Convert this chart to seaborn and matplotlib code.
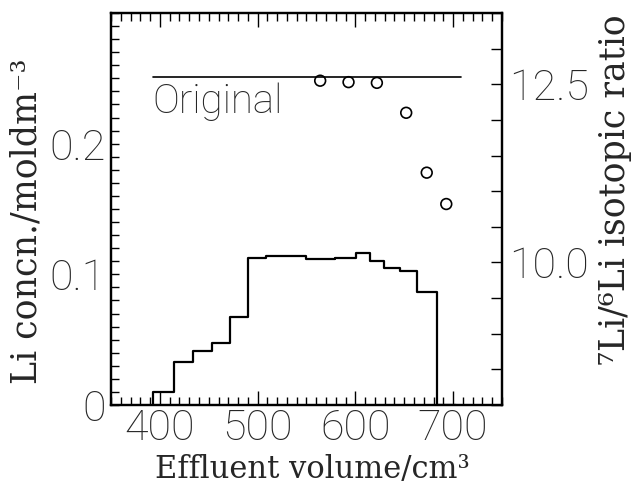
import matplotlib
matplotlib.use('Agg')
import matplotlib.pyplot as plt
import seaborn as sns
import pandas as pd
from matplotlib.ticker import MultipleLocator, FixedLocator, FuncFormatter

# Li concentration per collected fraction (bin edges in cm3, values in mol dm-3)
bin_edges = [393, 414, 434, 453, 472, 490, 509, 550, 579, 601, 615, 629, 646, 663, 684, 703]
li_conc = [0.0097, 0.0326, 0.041, 0.0474, 0.0674, 0.1128, 0.1143, 0.1115, 0.1123,
           0.1162, 0.1103, 0.1046, 0.1026, 0.0867, 0.0]

# 7Li/6Li isotopic ratio of selected fractions
ratio_volume = [564, 593, 622, 652, 673, 693]
ratio_value = [12.55, 12.53, 12.52, 12.10, 11.26, 10.82]

# ratio of the original lithium
original_volume = [393, 708]
original_ratio = [12.6, 12.6]

conc_ticks = [0, 0.1, 0.2]
ratio_ticks = [10.0, 12.5]

sns.set_theme(style='ticks')
plt.rcParams['font.family'] = ['Roboto', 'DejaVu Sans']

fig = plt.figure(figsize=(6.39, 4.88), dpi=100)
ax = fig.add_axes([0.1737, 0.170, 0.6119, 0.8034])
ax2 = ax.twinx()

# step outline of the concentration profile
step_df = pd.DataFrame({
    'volume': [bin_edges[0]] + bin_edges,
    'conc': [0.0] + li_conc + [li_conc[-1]],
})
sns.lineplot(data=step_df, x='volume', y='conc', ax=ax, sort=False, estimator=None,
             drawstyle='steps-post', color='black', linewidth=1.6)

sns.lineplot(x=original_volume, y=original_ratio, ax=ax2, color='black', linewidth=1.2)
sns.scatterplot(x=ratio_volume, y=ratio_value, ax=ax2, s=60, facecolor='none',
                edgecolor='black', linewidth=1.2, zorder=5)

ax.set_xlim(350, 750)
ax.set_ylim(0, 0.3)
ax2.set_ylim(8, 13.5)

ax.xaxis.set_major_locator(MultipleLocator(100))
ax.xaxis.set_minor_locator(MultipleLocator(10))
ax.yaxis.set_major_locator(FixedLocator(conc_ticks))
ax.yaxis.set_minor_locator(MultipleLocator(0.01))
ax.yaxis.set_major_formatter(FuncFormatter(lambda v, p: '0' if abs(v) < 1e-9 else f'{v:.1f}'))
ax2.yaxis.set_major_locator(FixedLocator(ratio_ticks))
ax2.yaxis.set_minor_locator(MultipleLocator(0.5))
ax2.yaxis.set_major_formatter(FuncFormatter(lambda v, p: f'{v:.1f}'))

tick_font = 31
ax.tick_params(axis='x', which='both', direction='in', top=True, bottom=True,
               width=1.0, color='black', labelsize=tick_font, pad=2)
ax.tick_params(axis='x', which='major', length=10)
ax.tick_params(axis='x', which='minor', length=6)
ax.tick_params(axis='y', which='both', direction='in', left=True, right=False,
               length=6, width=1.0, color='black', labelsize=tick_font, pad=4)
ax2.tick_params(axis='y', which='both', direction='in', right=True, left=False,
                length=8, width=1.0, color='black', labelsize=tick_font, pad=5)

for lab in ax.get_xticklabels() + ax.get_yticklabels() + ax2.get_yticklabels():
    lab.set_fontweight('light')

for a in (ax, ax2):
    for sp in a.spines.values():
        sp.set_linewidth(1.6)
        sp.set_color('black')
    a.grid(False)

serif = ['DejaVu Serif']
ax.set_xlabel('Effluent volume/cm³', fontsize=22, family=serif)
ax.set_ylabel('Li concn./moldm⁻³', fontsize=25, family=serif)
ax2.set_ylabel('⁷Li/⁶Li isotopic ratio', fontsize=25, family=serif)
ax.xaxis.set_label_coords(0.514, -0.165)
ax.yaxis.set_label_coords(-0.215, 0.47)
ax2.yaxis.set_label_coords(1.29, 0.55)
ax.xaxis.label.set_va('center')
ax.yaxis.label.set_va('center')
ax2.yaxis.label.set_va('center')

ax2.text(392, 12.25, 'Original', fontsize=29, fontweight='light', ha='left', va='center')

fig.savefig('out.png', dpi=100)
